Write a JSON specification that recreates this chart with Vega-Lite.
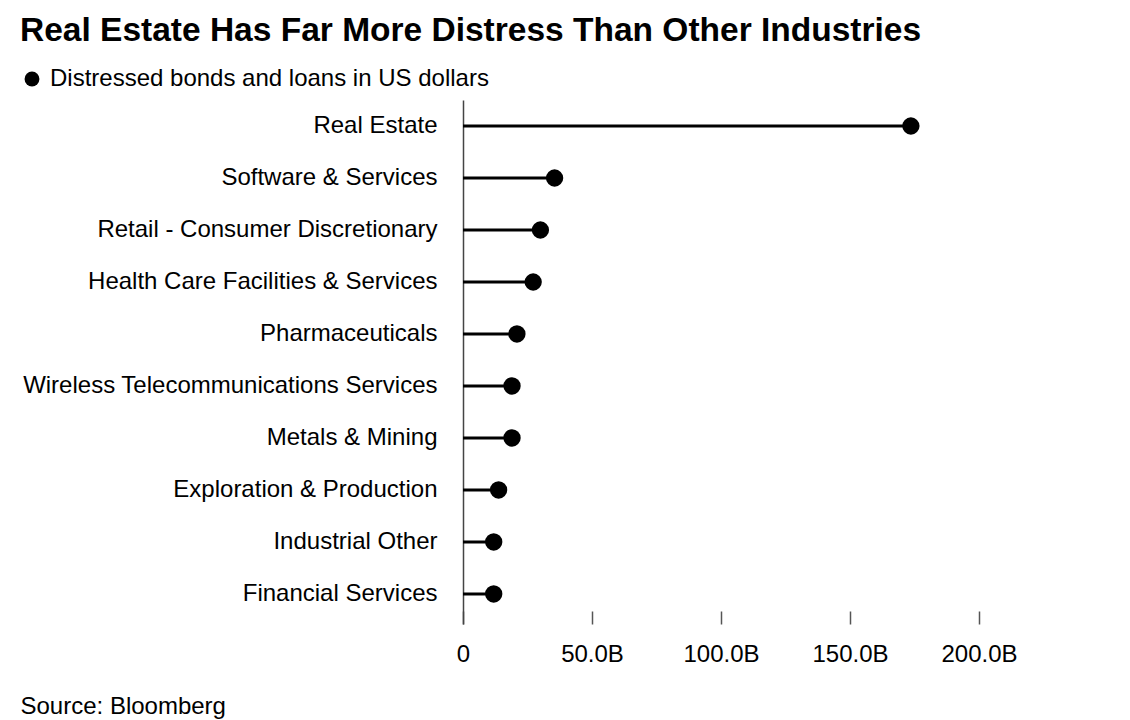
{
  "$schema": "https://vega.github.io/schema/vega-lite/v6.json",
  "width": 645,
  "height": 524,
  "autosize": {"type": "none"},
  "padding": {"left": 463, "top": 100, "right": 22, "bottom": 96},
  "background": "white",
  "config": {"font": "Liberation Sans", "view": {"stroke": null}},
  "title": {
    "text": "Real Estate Has Far More Distress Than Other Industries",
    "anchor": "start",
    "frame": "group",
    "dx": -443,
    "fontSize": 33.5,
    "fontWeight": "bold",
    "color": "#000",
    "offset": 19
  },
  "data": {
    "values": [
      {"industry": "Real Estate", "value": 173.6, "series": "Distressed bonds and loans in US dollars"},
      {"industry": "Software & Services", "value": 35.5, "series": "Distressed bonds and loans in US dollars"},
      {"industry": "Retail - Consumer Discretionary", "value": 30.0, "series": "Distressed bonds and loans in US dollars"},
      {"industry": "Health Care Facilities & Services", "value": 27.2, "series": "Distressed bonds and loans in US dollars"},
      {"industry": "Pharmaceuticals", "value": 20.9, "series": "Distressed bonds and loans in US dollars"},
      {"industry": "Wireless Telecommunications Services", "value": 19.0, "series": "Distressed bonds and loans in US dollars"},
      {"industry": "Metals & Mining", "value": 19.0, "series": "Distressed bonds and loans in US dollars"},
      {"industry": "Exploration & Production", "value": 13.8, "series": "Distressed bonds and loans in US dollars"},
      {"industry": "Industrial Other", "value": 11.9, "series": "Distressed bonds and loans in US dollars"},
      {"industry": "Financial Services", "value": 11.9, "series": "Distressed bonds and loans in US dollars"}
    ]
  },
  "encoding": {
    "y": {
      "field": "industry",
      "type": "nominal",
      "sort": null,
      "scale": {"type": "band", "paddingInner": 0, "paddingOuter": 0.0385, "align": 0},
      "axis": {
        "title": null,
        "domainColor": "#444",
        "domainWidth": 1.5,
        "ticks": false,
        "labelPadding": 26,
        "labelFontSize": 24,
        "labelColor": "#000",
        "labelLimit": 0
      }
    },
    "x": {
      "field": "value",
      "type": "quantitative",
      "scale": {"domain": [0, 250], "nice": false},
      "axis": {
        "title": "Source: Bloomberg",
        "values": [0, 50, 100, 150, 200],
        "domain": false,
        "grid": false,
        "tickSize": 13,
        "offset": -13,
        "tickColor": "#555",
        "tickWidth": 1.5,
        "labelFontSize": 24,
        "labelColor": "#000",
        "labelPadding": 18,
        "labelFlush": false,
        "labelExpr": "datum.value == 0 ? '0' : format(datum.value, '.1f') + 'B'",
        "titleAnchor": "start",
        "titleX": -443,
        "titleY": 102,
        "titleAlign": "left",
        "titleBaseline": "alphabetic",
        "titleFontSize": 24,
        "titleFontWeight": "normal",
        "titleColor": "#000"
      }
    }
  },
  "layer": [
    {
      "mark": {"type": "rule", "strokeWidth": 3, "color": "#000"},
      "encoding": {"x2": {"datum": 0}}
    },
    {
      "mark": {"type": "point", "filled": true, "size": 300, "opacity": 1, "shape": "circle"},
      "encoding": {
        "color": {
          "field": "series",
          "type": "nominal",
          "scale": {"range": ["#000000"]},
          "legend": {
            "title": null,
            "orient": "none",
            "legendX": -443,
            "legendY": -33,
            "symbolType": "circle",
            "symbolSize": 220,
            "symbolStrokeWidth": 0,
            "labelFontSize": 24,
            "labelLimit": 0,
            "labelColor": "#000",
            "labelOffset": 6,
            "direction": "horizontal"
          }
        }
      }
    }
  ]
}
